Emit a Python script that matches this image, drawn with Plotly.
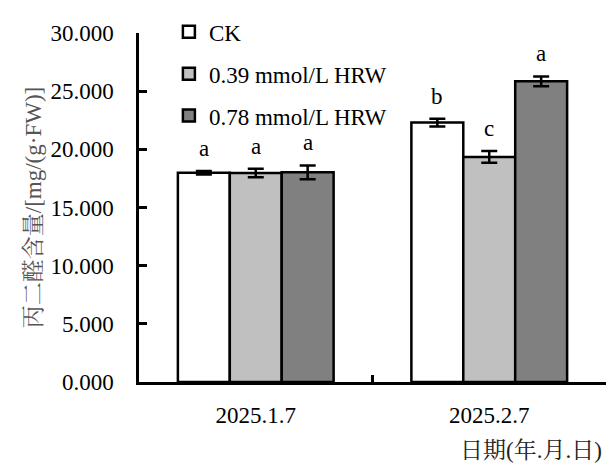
import plotly.graph_objects as go

dates = ["2025.1.7", "2025.2.7"]
series_names = ["CK", "0.39 mmol/L HRW", "0.78 mmol/L HRW"]
ck = [17.98, 22.30]
hrw039 = [17.97, 19.35]
hrw078 = [18.02, 25.85]
ck_err = [0.15, 0.33]
hrw039_err = [0.37, 0.50]
hrw078_err = [0.60, 0.42]
ck_letters = ["a", "b"]
hrw039_letters = ["a", "c"]
hrw078_letters = ["a", "a"]
colors = ["#FFFFFF", "#C0C0C0", "#808080"]
y_ticks = [0, 5, 10, 15, 20, 25, 30]

values = [ck, hrw039, hrw078]
errors = [ck_err, hrw039_err, hrw078_err]
letters = [ck_letters, hrw039_letters, hrw078_letters]

FONT = "Liberation Serif, Times New Roman, Noto Serif CJK SC, Noto Sans CJK SC, serif"
FS = 23

fig = go.Figure()
for i, name in enumerate(series_names):
    fig.add_trace(go.Bar(
        x=dates, y=values[i], name=name,
        marker=dict(color=colors[i], line=dict(color="black", width=2.5)),
        error_y=dict(type="data", array=errors[i], color="black", thickness=2.5, width=8),
        offsetgroup=str(i), legendgroup=str(i),
    ))

n = len(series_names)
bar_w = 0.667 / n
for i in range(n):
    for j, d in enumerate(dates):
        fig.add_annotation(
            x=j + (i - (n - 1) / 2) * bar_w, y=values[i][j] + errors[i][j],
            xref="x", yref="y", text=letters[i][j], showarrow=False,
            yanchor="bottom", yshift=8,
            font=dict(family=FONT, size=FS, color="black"),
        )

fig.add_annotation(
    x=0.84, y=0, xref="paper", yref="paper", text="日期(年.月.日)", showarrow=False,
    xanchor="center", yanchor="top", yshift=-54,
    font=dict(family=FONT, size=FS, color="#222222"),
)

fig.update_layout(
    width=606, height=465,
    margin=dict(l=131, r=8, t=25, b=91, autoexpand=False),
    plot_bgcolor="white", paper_bgcolor="white",
    barmode="group", bargap=0.333, bargroupgap=0,
    font=dict(family=FONT, size=FS, color="black"),
    showlegend=True,
    legend=dict(x=0.064, y=1.065, xanchor="left", yanchor="top",
                bgcolor="rgba(0,0,0,0)", tracegroupgap=9,
                font=dict(family=FONT, size=FS, color="black")),
    xaxis=dict(
        type="category", showline=True, linecolor="black", linewidth=2.5,
        ticks="inside", tickson="boundaries", ticklen=7, tickwidth=2.5, tickcolor="black",
        tickfont=dict(family=FONT, size=FS), showgrid=False, zeroline=False,
        automargin=False, ticklabelstandoff=11,
    ),
    yaxis=dict(
        range=[0, 30], tickvals=y_ticks, tickformat=".3f",
        showline=True, linecolor="black", linewidth=2.5,
        ticks="inside", ticklen=8, tickwidth=2.5, tickcolor="black",
        tickfont=dict(family=FONT, size=FS), showgrid=False, zeroline=False,
        automargin=False, ticklabelstandoff=18,
        title=dict(text="丙二醛含量/[mg/(g·FW)]", standoff=3,
                   font=dict(family=FONT, size=FS, color="#555555")),
    ),
)

fig.write_html("out.html")
